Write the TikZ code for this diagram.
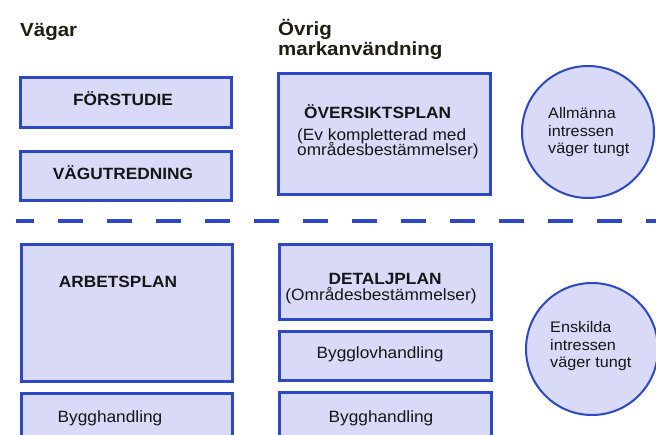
\documentclass[tikz,border=0pt]{standalone}
\usepackage{fontspec}
\setmainfont{Liberation Sans}
\newfontfamily\bodyfont{Liberation Sans}[FakeStretch=1.06]
\newfontfamily\headfont{Liberation Sans}[FakeStretch=1.08]
\definecolor{boxfill}{RGB}{216,218,248}
\definecolor{edgeblue}{RGB}{44,72,196}
\definecolor{ink}{RGB}{22,22,22}
\definecolor{headink}{RGB}{30,30,18}
\begin{document}
\begin{tikzpicture}[x=1pt,y=-1pt,
  planbox/.style={draw=edgeblue, fill=boxfill, line width=2.6pt, inner sep=0pt,
    anchor=north west},
  ring/.style={circle, draw=edgeblue, fill=boxfill, line width=2pt, inner sep=0pt,
    minimum size=132pt},
  divider/.style={draw=edgeblue, line width=3.6pt, dash pattern=on 25pt off 24pt,
    dash phase=7pt},
  heading/.style={inner sep=0pt, anchor=base west, text=headink,
    font=\headfont\bfseries\fontsize{19}{20}\selectfont},
  boldtxt/.style={inner sep=0pt, anchor=base, text=ink,
    font=\bodyfont\bfseries\fontsize{16.3}{17}\selectfont},
  plaintxt/.style={inner sep=0pt, anchor=base, text=ink,
    font=\bodyfont\fontsize{16.3}{17}\selectfont},
  circtxt/.style={inner sep=0pt, anchor=base west, text=ink,
    font=\bodyfont\fontsize{15.3}{17}\selectfont},
]
\useasboundingbox (0,0) rectangle (656,435);
\clip (0,0) rectangle (656,435);

% column headings
\node[heading] (hvagar) at (20,37) {Vägar};
\node[heading] (hovrig1) at (278,36) {Övrig};
\node[heading] (hovrig2) at (278,56) {markanvändning};

% road planning column
\node[planbox, minimum width=211pt, minimum height=50pt] (forstudie) at (19,76) {};
\node[planbox, minimum width=211pt, minimum height=49pt] (vagutr) at (19,150) {};
\node[planbox, minimum width=211pt, minimum height=137pt] (arbplan) at (20,243) {};
\node[planbox, minimum width=211pt, minimum height=60pt] (bygg1) at (20,392) {};

\node[boldtxt] (tforstudie) at (123,106) {FÖRSTUDIE};
\node[boldtxt] (tvagutr) at (123,180) {VÄGUTREDNING};
\node[boldtxt] (tarbplan) at (118,288) {ARBETSPLAN};
\node[plaintxt] (tbygg1) at (110,423) {Bygghandling};

% land use column
\node[planbox, minimum width=212pt, minimum height=121pt] (oversikt) at (277,72) {};
\node[planbox, minimum width=212pt, minimum height=75pt] (detalj) at (278,243) {};
\node[planbox, minimum width=212pt, minimum height=49pt] (bygglov) at (278,330) {};
\node[planbox, minimum width=212pt, minimum height=60pt] (bygg2) at (278,391) {};

\node[boldtxt, anchor=base west] (toversikt) at (304,119) {ÖVERSIKTSPLAN};
\node[plaintxt, anchor=base west] (tov2) at (297,141) {(Ev kompletterad med};
\node[plaintxt, anchor=base west] (tov3) at (297,156) {områdesbestämmelser)};
\node[boldtxt] (tdetalj) at (385,285) {DETALJPLAN};
\node[plaintxt] (tdetalj2) at (381,301) {(Områdesbestämmelser)};
\node[plaintxt] (tbygglov) at (380,359) {Bygglovhandling};
\node[plaintxt] (tbygg2) at (381,422) {Bygghandling};

% level divider
\coordinate (divl) at (16,221);
\coordinate (divr) at (656,221);
\draw[divider] (divl) -- (divr);

% interest circles
\node[ring] (allm) at (588,132) {};
\node[circtxt] (tallm1) at (548,119) {Allmänna};
\node[circtxt] (tallm2) at (548,137) {intressen};
\node[circtxt] (tallm3) at (548,154) {väger tungt};

\node[ring] (ensk) at (592,349) {};
\node[circtxt] (tensk1) at (550,333) {Enskilda};
\node[circtxt] (tensk2) at (550,351) {intressen};
\node[circtxt] (tensk3) at (550,368) {väger tungt};
\end{tikzpicture}
\end{document}
